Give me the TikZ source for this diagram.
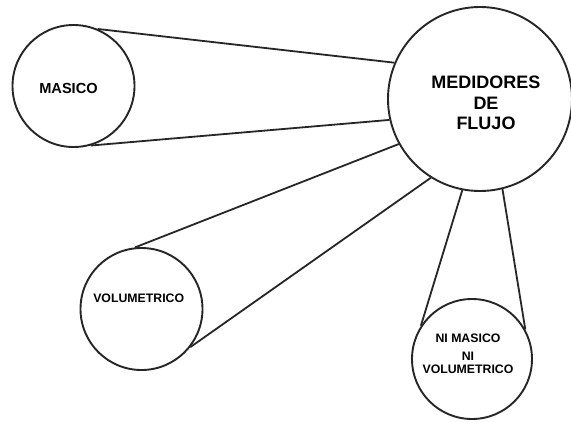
\documentclass[tikz,border=0pt]{standalone}
\usepackage{fontspec}
\setmainfont{Liberation Sans}
\begin{document}
\begin{tikzpicture}[x=1pt,y=-1pt,
  ring/.style={draw=black!85,line width=1.9pt,circle,inner sep=0pt},
  link/.style={draw=black!85,line width=1.8pt},
  bigtxt/.style={font=\fontsize{18}{20.5}\selectfont\bfseries,align=center,inner sep=0pt},
  midtxt/.style={font=\fontsize{14.6}{17}\selectfont\bfseries,align=center,inner sep=0pt},
  smalltxt/.style={font=\fontsize{12.3}{17.7}\selectfont\bfseries,align=center,inner sep=0pt}]
\useasboundingbox (0,0) rectangle (571,421);
\fill[white] (0,0) rectangle (571,421);
\node[ring,minimum size=184pt] (B) at (480,99) {};
\node[ring,minimum size=122pt] (M) at (73.5,86) {};
\node[ring,minimum size=122pt] (V) at (141.5,309) {};
\node[ring,minimum size=120pt] (N) at (472,359) {};
\node[bigtxt] (Bt) at (486,103) {MEDIDORES\\DE\\FLUJO};
\node[midtxt] (Mt) at (68.5,88) {MASICO};
\node[smalltxt] (Vt) at (138.7,298) {VOLUMETRICO};
\node[smalltxt] (Nt) at (468,354) {NI MASICO\\NI\\[-4.4pt]VOLUMETRICO};
\draw[link] (M.67.9) -- (B.157.6);
\draw[link] (M.-74.1) -- (B.-167.5);
\draw[link] (V.96.1) -- (B.209.3);
\draw[link] (V.-38.1) -- (B.238.3);
\draw[link] (B.259.7) -- (N.147.4);
\draw[link] (B.-76.8) -- (N.29);
\end{tikzpicture}
\end{document}
